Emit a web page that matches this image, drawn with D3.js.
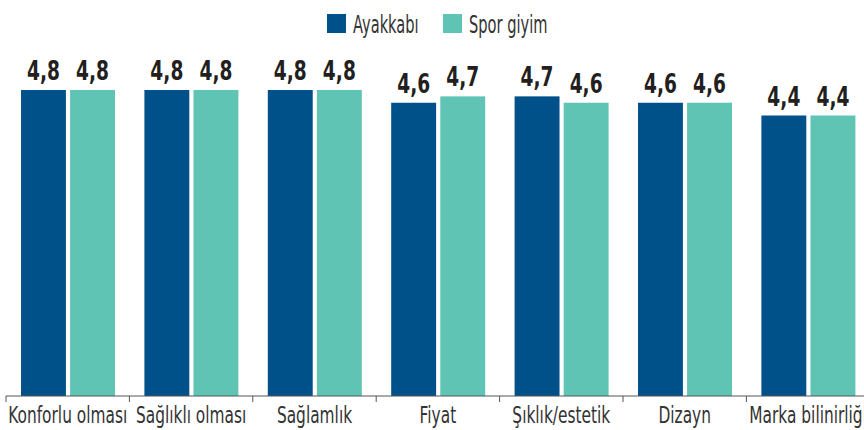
<!DOCTYPE html>
<html>
<head>
<meta charset="utf-8">
<script src="https://cdn.jsdelivr.net/npm/d3@7"></script>
<style>
  body { margin: 0; background: #fff; }
  svg text { font-family: "DejaVu Sans", sans-serif; }
</style>
</head>
<body>
<svg id="chart"></svg>
<script>
// Chart data
const categories = ["Konforlu olması", "Sağlıklı olması", "Sağlamlık", "Fiyat", "Şıklık/estetik", "Dizayn", "Marka bilinirliği"];
const seriesNames = ["Ayakkabı", "Spor giyim"];
const ayakkabi = [4.8, 4.8, 4.8, 4.6, 4.7, 4.6, 4.4];
const sporGiyim = [4.8, 4.8, 4.8, 4.7, 4.6, 4.6, 4.4];
const colors = ["#00508a", "#5fc4b4"];

const width = 864;
const height = 430;
const baseY = 396;
// no condensed font installed, so squeeze the glyphs horizontally
const squeezeValue = 0.69;
const squeezeAxis = 0.67;
const squeezeLegend = 0.61;

const svg = d3.select("#chart")
  .attr("width", width)
  .attr("height", height);

// Scales
const x = d3.scaleBand()
  .domain(categories)
  .range([6, 6 + 123.4 * categories.length]);

const x1 = d3.scaleBand()
  .domain(seriesNames)
  .range([15, 109])
  .paddingInner(0.085);

const y = d3.scaleLinear()
  .domain([0, 4.8])
  .range([baseY, 90]);

const rows = categories.map((c, i) => ({
  cat: c,
  vals: [ayakkabi[i], sporGiyim[i]]
}));

// Bars
const groups = svg.append("g")
  .selectAll("g")
  .data(rows)
  .enter().append("g")
  .attr("transform", d => `translate(${x(d.cat)},0)`);

groups.selectAll("rect")
  .data(d => d.vals.map((v, j) => ({ name: seriesNames[j], v, j })))
  .enter().append("rect")
  .attr("x", d => x1(d.name))
  .attr("y", d => y(d.v))
  .attr("width", x1.bandwidth())
  .attr("height", d => baseY - y(d.v))
  .attr("fill", d => colors[d.j]);

// Value labels
groups.selectAll("text")
  .data(d => d.vals.map((v, j) => ({ name: seriesNames[j], v })))
  .enter().append("text")
  .attr("transform", d => `translate(${x1(d.name) + x1.bandwidth() / 2},${y(d.v) - 10}) scale(${squeezeValue},1)`)
  .attr("text-anchor", "middle")
  .attr("font-size", "27px")
  .attr("font-weight", "bold")
  .attr("fill", "#231f20")
  .text(d => d3.format(".1f")(d.v).replace(".", ","));

// Axis
const axis = svg.append("g")
  .attr("transform", `translate(0,${baseY})`);

axis.append("line")
  .attr("x1", x.range()[0])
  .attr("x2", width)
  .attr("stroke", "#555")
  .attr("stroke-width", 1);

axis.selectAll("line.tick")
  .data(categories)
  .enter().append("line")
  .attr("class", "tick")
  .attr("x1", d => x(d))
  .attr("x2", d => x(d))
  .attr("y1", 0)
  .attr("y2", 6)
  .attr("stroke", "#555");

axis.selectAll("text")
  .data(categories)
  .enter().append("text")
  .attr("transform", d => `translate(${x(d) + x.bandwidth() / 2},27) scale(${squeezeAxis},1)`)
  .attr("text-anchor", "middle")
  .attr("font-size", "23px")
  .attr("fill", "#333")
  .text(d => d);

// Legend
const legend = svg.append("g");
const legendX = [327, 443];
seriesNames.forEach((name, i) => {
  legend.append("rect")
    .attr("x", legendX[i])
    .attr("y", 14)
    .attr("width", 19)
    .attr("height", 19)
    .attr("fill", colors[i]);
  legend.append("text")
    .attr("transform", `translate(${legendX[i] + 26},33) scale(${squeezeLegend},1)`)
    .attr("font-size", "24px")
    .attr("fill", "#333")
    .text(name);
});
</script>
</body>
</html>
